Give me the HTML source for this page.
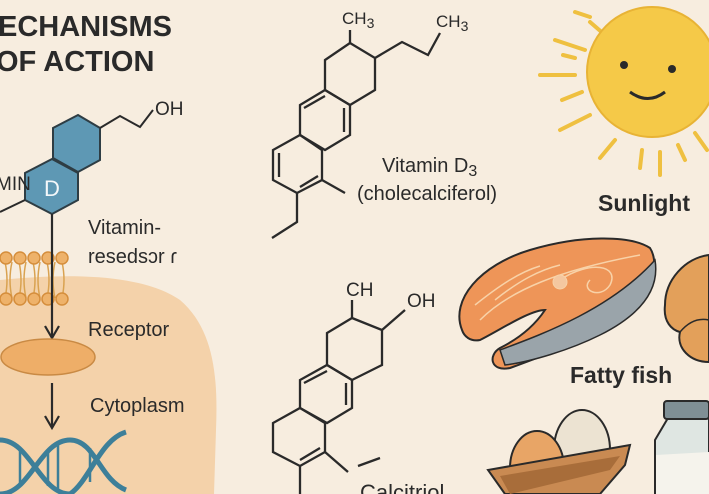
<!DOCTYPE html>
<html><head><meta charset="utf-8"><style>
html,body{margin:0;padding:0;background:#f7eddf;}
svg{display:block;font-family:"Liberation Sans",sans-serif;}
</style></head><body>
<svg width="709" height="494" viewBox="0 0 709 494" xmlns="http://www.w3.org/2000/svg">
<rect width="709" height="494" fill="#f7eddf"/>
<path d="M0,280 C60,274 140,272 180,300 C215,330 218,380 216,430 L214,494 L0,494 Z" fill="#f4d2aa"/>
<text x="-2" y="36" font-size="29" font-weight="bold" fill="#2a2a2a">ECHANISMS</text>
<text x="-4" y="71" font-size="29" font-weight="bold" fill="#2a2a2a">OF ACTION</text>
<g stroke="#2e3d44" stroke-width="2" fill="#5e98b4">
<polygon points="78,115 100,128 100,160 78,172 53,158 53,128"/>
<polygon points="52,159 78,173 78,200 52,214 25,200 25,173"/>
</g>
<polyline points="100,128 120,116 140,127 153,110" fill="none" stroke="#2a2a2a" stroke-width="2"/>
<text x="155" y="115" font-size="19" fill="#2a2a2a">OH</text>
<line x1="25" y1="200" x2="0" y2="212" stroke="#2a2a2a" stroke-width="2"/>
<text x="-4" y="190" font-size="19" fill="#2a2a2a">MIN</text>
<text x="44" y="196" font-size="22" fill="#f4f8fa">D</text>
<g stroke="#d9a250" stroke-width="1.5" fill="none">
<path d="M5,262 q4,18 0,36 M12,262 q-4,18 0,36 M19,262 q4,18 0,36 M26,262 q-4,18 0,36 M33,262 q4,18 0,36 M40,262 q-4,18 0,36 M47,262 q4,18 0,36 M55,262 q-4,18 0,36 M62,262 q4,18 0,36"/>
</g>
<g fill="#eeb26a" stroke="#d58e3c" stroke-width="1.5">
<circle cx="6" cy="258" r="6"/><circle cx="20" cy="258" r="6"/><circle cx="34" cy="258" r="6"/><circle cx="48" cy="258" r="6"/><circle cx="62" cy="258" r="6"/>
<circle cx="6" cy="299" r="6"/><circle cx="20" cy="299" r="6"/><circle cx="34" cy="299" r="6"/><circle cx="48" cy="299" r="6"/><circle cx="62" cy="299" r="6"/>
</g>
<g stroke="#2a2a2a" stroke-width="2.2" fill="none">
<line x1="52" y1="214" x2="52" y2="336"/>
<polyline points="45,326 52,338 59,326"/>
<line x1="52" y1="383" x2="52" y2="426"/>
<polyline points="45,416 52,428 59,416"/>
</g>
<ellipse cx="48" cy="357" rx="47" ry="18" fill="#eeae68" stroke="#c98a44" stroke-width="1.5"/>
<g stroke="#3d7f99" stroke-width="5" fill="none">
<path d="M0,440 C30,440 40,494 70,494 M0,494 C30,494 40,440 70,440 C95,440 100,480 126,490 M126,432 C100,440 90,480 70,494"/>
</g>
<g stroke="#3d7f99" stroke-width="2.5">
<line x1="20" y1="448" x2="20" y2="486"/><line x1="48" y1="452" x2="48" y2="486"/><line x1="58" y1="444" x2="58" y2="490"/><line x1="90" y1="448" x2="90" y2="482"/>
</g>
<g font-size="20" fill="#2a2a2a">
<text x="88" y="234">Vitamin-</text>
<text x="88" y="263">resedsɔr ɾ</text>
<text x="88" y="336">Receptor</text>
<text x="90" y="412">Cytoplasm</text>
</g>
<g stroke="#2a2a2a" stroke-width="2.3" fill="none">
<polyline points="350,43 375,58 375,90 350,105 325,90 325,60 350,43"/>
<polyline points="375,58 402,42 428,55 440,33"/>
<line x1="350" y1="43" x2="350" y2="30"/>
<polygon points="325,90 350,105 350,135 325,150 300,135 300,105"/>
<line x1="344" y1="108" x2="344" y2="132"/><line x1="304" y1="108" x2="325" y2="96"/>
<polygon points="300,135 322,150 322,180 297,193 273,180 273,150"/>
<line x1="279" y1="153" x2="279" y2="177"/><line x1="300" y1="187" x2="318" y2="176"/>
<line x1="322" y1="180" x2="345" y2="193"/>
<polyline points="297,193 297,222 272,238"/>
</g>
<text x="342" y="24" font-size="17" fill="#2a2a2a">CH<tspan font-size="14" dy="4">3</tspan></text>
<text x="436" y="27" font-size="17" fill="#2a2a2a">CH<tspan font-size="14" dy="4">3</tspan></text>
<text x="382" y="172" font-size="20" fill="#2a2a2a">Vitamin D<tspan font-size="16" dy="4">3</tspan></text>
<text x="357" y="200" font-size="20" fill="#2a2a2a">(cholecalciferol)</text>
<g stroke="#2a2a2a" stroke-width="2.3" fill="none">
<polyline points="352,318 382,330 382,365 352,380 327,365 327,333 352,318"/>
<line x1="352" y1="318" x2="352" y2="300"/>
<line x1="382" y1="330" x2="405" y2="310"/>
<polygon points="327,365 352,380 352,408 327,423 300,408 300,380"/>
<line x1="346" y1="383" x2="346" y2="405"/><line x1="304" y1="383" x2="327" y2="371"/>
<polygon points="300,408 325,423 325,452 300,466 273,452 273,423"/>
<line x1="300" y1="460" x2="320" y2="448"/>
<polyline points="300,466 300,494"/>
<line x1="325" y1="452" x2="348" y2="472"/>
<line x1="358" y1="466" x2="380" y2="458"/>
</g>
<text x="346" y="296" font-size="19" fill="#2a2a2a">CH</text>
<text x="407" y="307" font-size="19" fill="#2a2a2a">OH</text>
<text x="360" y="500" font-size="22" fill="#2a2a2a">Calcitriol</text>
<g stroke="#efc040" stroke-width="4" stroke-linecap="round">
<line x1="540" y1="75" x2="575" y2="75"/><line x1="555" y1="40" x2="585" y2="50"/><line x1="562" y1="100" x2="582" y2="92"/>
<line x1="560" y1="130" x2="590" y2="115"/><line x1="590" y1="22" x2="605" y2="35"/><line x1="600" y1="158" x2="615" y2="140"/>
<line x1="640" y1="168" x2="642" y2="150"/><line x1="660" y1="175" x2="660" y2="152"/><line x1="685" y1="160" x2="678" y2="145"/>
<line x1="707" y1="150" x2="695" y2="133"/><line x1="575" y1="12" x2="590" y2="17"/><line x1="563" y1="55" x2="575" y2="58"/>
</g>
<circle cx="652" cy="72" r="65" fill="#f5c948" stroke="#e8b335" stroke-width="2"/>
<circle cx="624" cy="65" r="4" fill="#2a2a2a"/><circle cx="672" cy="69" r="4" fill="#2a2a2a"/>
<path d="M630,92 Q648,105 665,92" stroke="#2a2a2a" stroke-width="3" fill="none"/>
<text x="598" y="211" font-size="23" font-weight="bold" fill="#2a2a2a">Sunlight</text>
<path d="M462,330 C450,300 480,265 530,250 C580,235 630,235 650,248 C658,260 655,285 640,300 C610,330 560,350 510,368 C490,372 488,355 500,348 C520,338 535,325 545,310 C530,310 500,330 480,340 C470,342 464,336 462,330 Z" fill="#ee9558" stroke="#2a2a2a" stroke-width="2"/>
<path d="M500,350 C540,335 610,310 655,260 C660,290 640,315 600,335 C570,350 530,362 505,365 Z" fill="#9aa4aa" stroke="#2a2a2a" stroke-width="1.5"/>
<g stroke="#f8d2a8" stroke-width="1.5" fill="none">
<path d="M480,320 C510,290 560,270 640,255"/><path d="M560,280 C590,260 620,265 610,285 C600,300 580,290 590,280"/>
<path d="M495,300 C520,280 540,270 560,265"/><path d="M475,305 C500,285 520,272 540,266"/>
</g>
<circle cx="560" cy="282" r="7" fill="#f4c7a0" stroke="#f8d2a8"/>
<text x="570" y="383" font-size="23" font-weight="bold" fill="#2a2a2a">Fatty fish</text>
<path d="M709,255 C685,258 665,280 665,305 C663,322 672,330 680,332 C676,348 690,362 709,362 Z" fill="#e3a05a" stroke="#2a2a2a" stroke-width="2"/>
<path d="M680,332 C690,320 700,318 709,320" stroke="#2a2a2a" stroke-width="1.5" fill="none"/>
<ellipse cx="582" cy="450" rx="28" ry="40" fill="#ece3d2" stroke="#2a2a2a" stroke-width="2"/>
<ellipse cx="537" cy="468" rx="27" ry="37" fill="#e8a566" stroke="#2a2a2a" stroke-width="2"/>
<path d="M488,470 L630,445 L625,465 L600,494 L505,494 Z" fill="#c98a52" stroke="#2a2a2a" stroke-width="2"/>
<path d="M500,476 L620,456 L610,470 L510,494 Z" fill="#a86d3a"/>
<path d="M668,418 L709,416 L709,494 L655,494 L655,440 Z" fill="#dfe6e2" stroke="#2a2a2a" stroke-width="2"/>
<path d="M656,455 L709,452 L709,494 L656,494 Z" fill="#f5f3ec"/>
<rect x="664" y="401" width="45" height="18" rx="3" fill="#7f8f95" stroke="#2a2a2a" stroke-width="2"/>
</svg>
</body></html>
